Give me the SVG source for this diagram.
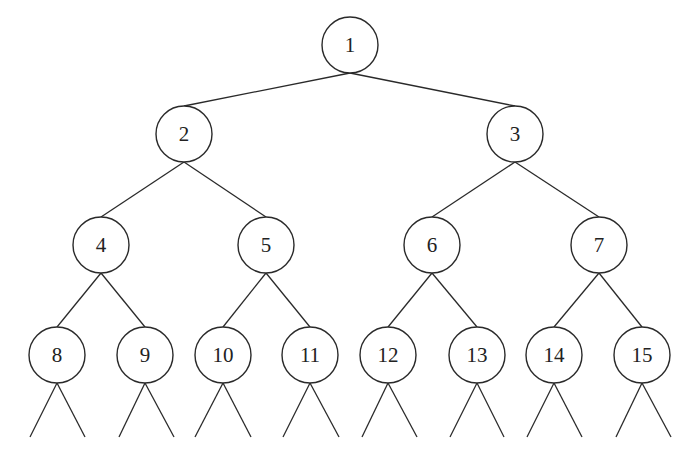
<svg xmlns="http://www.w3.org/2000/svg" width="699" height="459" viewBox="0 0 699 459">
<style>
.n circle{fill:#fff;stroke:#2a2a2a;stroke-width:1.4}
.n text{font-family:"Liberation Serif",serif;font-size:21px;fill:#222;text-anchor:middle;dominant-baseline:central}
#edges line{stroke:#2a2a2a;stroke-width:1.3}
</style>
<rect width="699" height="459" fill="#fff"/>
<g id="edges">
<line x1="350" y1="73" x2="184" y2="106"/>
<line x1="350" y1="73" x2="515" y2="106"/>
<line x1="184" y1="162" x2="101" y2="217"/>
<line x1="184" y1="162" x2="266" y2="217"/>
<line x1="515" y1="162" x2="432" y2="217"/>
<line x1="515" y1="162" x2="599" y2="217"/>
<line x1="101" y1="273" x2="57" y2="327"/>
<line x1="101" y1="273" x2="145" y2="327"/>
<line x1="266" y1="273" x2="223" y2="327"/>
<line x1="266" y1="273" x2="310" y2="327"/>
<line x1="432" y1="273" x2="388" y2="327"/>
<line x1="432" y1="273" x2="477" y2="327"/>
<line x1="599" y1="273" x2="554" y2="327"/>
<line x1="599" y1="273" x2="642" y2="327"/>
<line x1="57" y1="383" x2="30" y2="437"/>
<line x1="57" y1="383" x2="85" y2="437"/>
<line x1="145" y1="383" x2="119" y2="437"/>
<line x1="145" y1="383" x2="174" y2="437"/>
<line x1="223" y1="383" x2="195" y2="437"/>
<line x1="223" y1="383" x2="251" y2="437"/>
<line x1="310" y1="383" x2="283" y2="437"/>
<line x1="310" y1="383" x2="339" y2="437"/>
<line x1="388" y1="383" x2="362" y2="437"/>
<line x1="388" y1="383" x2="417" y2="437"/>
<line x1="477" y1="383" x2="450" y2="437"/>
<line x1="477" y1="383" x2="504" y2="437"/>
<line x1="554" y1="383" x2="527" y2="437"/>
<line x1="554" y1="383" x2="582" y2="437"/>
<line x1="642" y1="383" x2="616" y2="437"/>
<line x1="642" y1="383" x2="671" y2="437"/>
</g>
<g id="n1" class="n"><circle cx="350" cy="45" r="28"/><text x="350" y="45">1</text></g>
<g id="n2" class="n"><circle cx="184" cy="134" r="28"/><text x="184" y="134">2</text></g>
<g id="n3" class="n"><circle cx="515" cy="134" r="28"/><text x="515" y="134">3</text></g>
<g id="n4" class="n"><circle cx="101" cy="245" r="28"/><text x="101" y="245">4</text></g>
<g id="n5" class="n"><circle cx="266" cy="245" r="28"/><text x="266" y="245">5</text></g>
<g id="n6" class="n"><circle cx="432" cy="245" r="28"/><text x="432" y="245">6</text></g>
<g id="n7" class="n"><circle cx="599" cy="245" r="28"/><text x="599" y="245">7</text></g>
<g id="n8" class="n"><circle cx="57" cy="355" r="28"/><text x="57" y="355">8</text></g>
<g id="n9" class="n"><circle cx="145" cy="355" r="28"/><text x="145" y="355">9</text></g>
<g id="n10" class="n"><circle cx="223" cy="355" r="28"/><text x="223" y="355">10</text></g>
<g id="n11" class="n"><circle cx="310" cy="355" r="28"/><text x="310" y="355">11</text></g>
<g id="n12" class="n"><circle cx="388" cy="355" r="28"/><text x="388" y="355">12</text></g>
<g id="n13" class="n"><circle cx="477" cy="355" r="28"/><text x="477" y="355">13</text></g>
<g id="n14" class="n"><circle cx="554" cy="355" r="28"/><text x="554" y="355">14</text></g>
<g id="n15" class="n"><circle cx="642" cy="355" r="28"/><text x="642" y="355">15</text></g>
</svg>
